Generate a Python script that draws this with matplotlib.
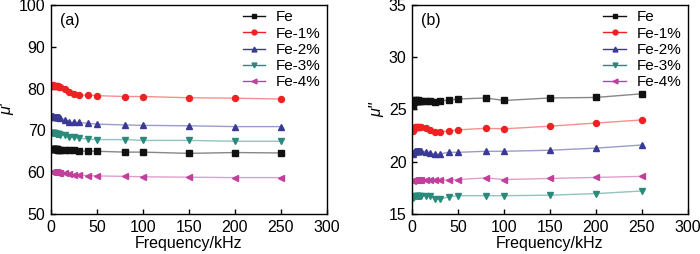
import matplotlib
matplotlib.use('Agg')
import matplotlib.pyplot as plt
import numpy as np

plt.rcParams['font.family'] = ['Liberation Sans', 'DejaVu Sans']

# frequency points (kHz)
freq = [1, 2, 3, 4, 5, 6, 7, 8, 9, 10, 15, 20, 25, 30, 40, 50, 80, 100, 150, 200, 250]
labels = ['Fe', 'Fe-1%', 'Fe-2%', 'Fe-3%', 'Fe-4%']

# real part mu'
mu1_fe = [65.6, 65.6, 65.6, 65.5, 65.5, 65.5, 65.5, 65.4, 65.4, 65.4, 65.3, 65.2, 65.2, 65.1, 65.0, 65.0, 64.8, 64.8, 64.5, 64.7, 64.6]
mu1_fe1 = [80.8, 80.8, 80.7, 80.7, 80.6, 80.6, 80.5, 80.5, 80.4, 80.3, 79.8, 79.1, 78.7, 78.5, 78.4, 78.3, 78.1, 78.1, 77.8, 77.7, 77.5]
mu1_fe2 = [73.4, 73.4, 73.3, 73.3, 73.3, 73.2, 73.2, 73.1, 73.1, 73.0, 72.6, 72.0, 71.9, 71.9, 71.7, 71.5, 71.3, 71.2, 71.1, 70.9, 70.9]
mu1_fe3 = [69.4, 69.4, 69.3, 69.3, 69.2, 69.2, 69.2, 69.1, 69.1, 69.0, 68.8, 68.5, 68.3, 68.2, 67.9, 67.8, 67.8, 67.6, 67.6, 67.4, 67.4]
mu1_fe4 = [60.1, 60.1, 60.1, 60.0, 60.0, 60.0, 60.0, 59.9, 59.9, 59.9, 59.7, 59.5, 59.4, 59.4, 59.2, 59.1, 59.0, 58.9, 58.8, 58.7, 58.7]

# imaginary part mu''
mu2_fe = [25.3, 25.7, 25.9, 25.9, 25.8, 25.9, 25.8, 25.8, 25.8, 25.8, 25.8, 25.8, 25.7, 25.8, 25.9, 26.0, 26.1, 25.86, 26.1, 26.15, 26.5]
mu2_fe1 = [22.9, 23.1, 23.3, 23.3, 23.3, 23.3, 23.3, 23.3, 23.3, 23.3, 23.2, 23.0, 22.8, 22.85, 22.95, 23.05, 23.2, 23.15, 23.4, 23.7, 24.0]
mu2_fe2 = [20.7, 20.9, 21.0, 21.0, 21.0, 21.0, 21.0, 21.05, 21.05, 21.05, 20.95, 20.85, 20.7, 20.75, 20.9, 20.9, 21.0, 21.0, 21.1, 21.3, 21.6]
mu2_fe3 = [16.5, 16.6, 16.7, 16.7, 16.7, 16.7, 16.7, 16.7, 16.75, 16.75, 16.75, 16.7, 16.45, 16.4, 16.65, 16.75, 16.75, 16.75, 16.8, 16.95, 17.2]
mu2_fe4 = [18.2, 18.3, 18.3, 18.3, 18.3, 18.3, 18.3, 18.3, 18.3, 18.3, 18.25, 18.25, 18.25, 18.25, 18.25, 18.3, 18.45, 18.3, 18.4, 18.5, 18.6]

colors = ['#111111', '#ee2222', '#3a3a96', '#2a8a7c', '#c0409c']
markers = ['s', 'o', '^', 'v', '<']
fs = 11.5


def draw(ax, series, ylim, yticks, ylabel, tag):
    for y, lab, c, m in zip(series, labels, colors, markers):
        ax.plot(freq, y, color=c, lw=1.0, alpha=0.5)
        ax.plot(freq, y, ls='none', marker=m, ms=4.3, color=c)
        # legend proxy
        ax.plot([], [], color=c, lw=1.0, marker=m, ms=3.5, label=lab)
    ax.set_xlim(0, 300)
    ax.set_xticks(np.arange(0, 301, 50))
    ax.set_ylim(*ylim)
    ax.set_yticks(yticks)
    ax.tick_params(direction='in', labelsize=fs, length=3.5, width=1,
                   top=False, right=False, pad=4)
    for s in ax.spines.values():
        s.set_linewidth(1.0)
    ax.set_xlabel('Frequency/kHz', fontsize=fs, labelpad=1)
    ax.set_ylabel(ylabel, fontsize=fs, style='italic', labelpad=3)
    ax.text(0.033, 0.96, tag, transform=ax.transAxes, fontsize=fs,
            va='top', ha='left')
    leg = ax.legend(loc='upper right', frameon=False, fontsize=11,
                    labelspacing=0.15, handlelength=1.45, handletextpad=0.7,
                    borderaxespad=0.2, borderpad=0.15,
                    bbox_to_anchor=(0.995, 1.0))
    for h in leg.get_lines():
        h.set_alpha(1.0)


fig = plt.figure(figsize=(7, 2.54), dpi=100)
ax1 = fig.add_axes([0.0729, 0.1575, 0.394, 0.823])
ax2 = fig.add_axes([0.5886, 0.1575, 0.394, 0.823])

draw(ax1, [mu1_fe, mu1_fe1, mu1_fe2, mu1_fe3, mu1_fe4], (50, 100),
     np.arange(50, 101, 10), "μ'", '(a)')
draw(ax2, [mu2_fe, mu2_fe1, mu2_fe2, mu2_fe3, mu2_fe4], (15, 35),
     np.arange(15, 36, 5), "μ''", '(b)')

fig.savefig('out.png', dpi=100)
